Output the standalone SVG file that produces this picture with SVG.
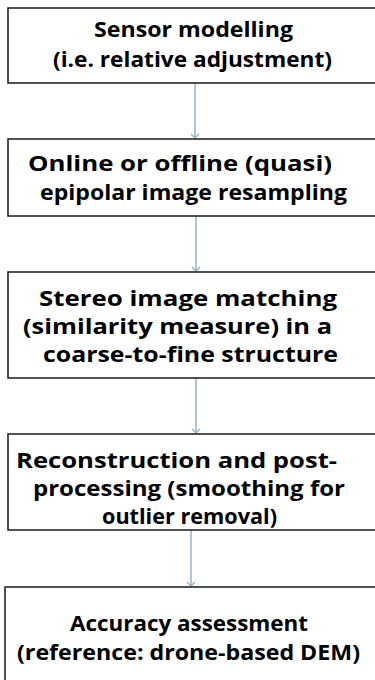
<svg xmlns="http://www.w3.org/2000/svg" width="375" height="680" viewBox="0 0 375 680">
<defs>
<style>
.box{fill:#fff;stroke:#1a1a1a;stroke-width:1.5}
.t{font-family:"Open Sans","Liberation Sans",sans-serif;font-weight:bold;font-size:22px;fill:#000;text-anchor:middle}
.c{stroke:#8fb2cf;stroke-width:1.5;fill:none}
</style>
<marker id="ah" markerWidth="10" markerHeight="10" refX="5" refY="5" orient="auto" markerUnits="userSpaceOnUse">
<path d="M1,1 L5,5 L1,9" fill="none" stroke="#8fb2cf" stroke-width="1.3"/>
</marker>
</defs>
<rect width="375" height="680" fill="#fff"/>
<g id="connectors">
<line class="c" x1="195" y1="83" x2="195" y2="138" marker-end="url(#ah)"/>
<line class="c" x1="196" y1="216" x2="196" y2="271" marker-end="url(#ah)"/>
<line class="c" x1="196" y1="378" x2="196" y2="433" marker-end="url(#ah)"/>
<line class="c" x1="191" y1="530" x2="191" y2="586" marker-end="url(#ah)"/>
</g>
<g id="n1">
<rect class="box" x="8" y="8" width="380" height="75"/>
<text class="t" x="193.5" y="37" textLength="199" lengthAdjust="spacingAndGlyphs">Sensor modelling</text>
<text class="t" x="192.5" y="67" textLength="279" lengthAdjust="spacingAndGlyphs">(i.e. relative adjustment)</text>
</g>
<g id="n2">
<rect class="box" x="8" y="139" width="380" height="77"/>
<text class="t" x="180" y="171" textLength="304" lengthAdjust="spacingAndGlyphs">Online or offline (quasi)</text>
<text class="t" x="193.5" y="200" textLength="307" lengthAdjust="spacingAndGlyphs">epipolar image resampling</text>
</g>
<g id="n3">
<rect class="box" x="8" y="272" width="380" height="106"/>
<text class="t" x="188" y="306" textLength="298" lengthAdjust="spacingAndGlyphs">Stereo image matching</text>
<text class="t" x="177.5" y="334" textLength="309" lengthAdjust="spacingAndGlyphs">(similarity measure) in a</text>
<text class="t" x="190.5" y="362" textLength="295" lengthAdjust="spacingAndGlyphs">coarse-to-fine structure</text>
</g>
<g id="n4">
<rect class="box" x="8" y="434" width="380" height="96"/>
<text class="t" x="176.5" y="468" textLength="321" lengthAdjust="spacingAndGlyphs">Reconstruction and post-</text>
<text class="t" x="189" y="496" textLength="312" lengthAdjust="spacingAndGlyphs">processing (smoothing for</text>
<text class="t" x="189.5" y="524" textLength="175" lengthAdjust="spacingAndGlyphs">outlier removal)</text>
</g>
<g id="n5">
<rect class="box" x="5" y="587" width="385" height="110"/>
<text class="t" x="189" y="631" textLength="238" lengthAdjust="spacingAndGlyphs">Accuracy assessment</text>
<text class="t" x="188.5" y="660" textLength="343" lengthAdjust="spacingAndGlyphs">(reference: drone-based DEM)</text>
</g>
</svg>
